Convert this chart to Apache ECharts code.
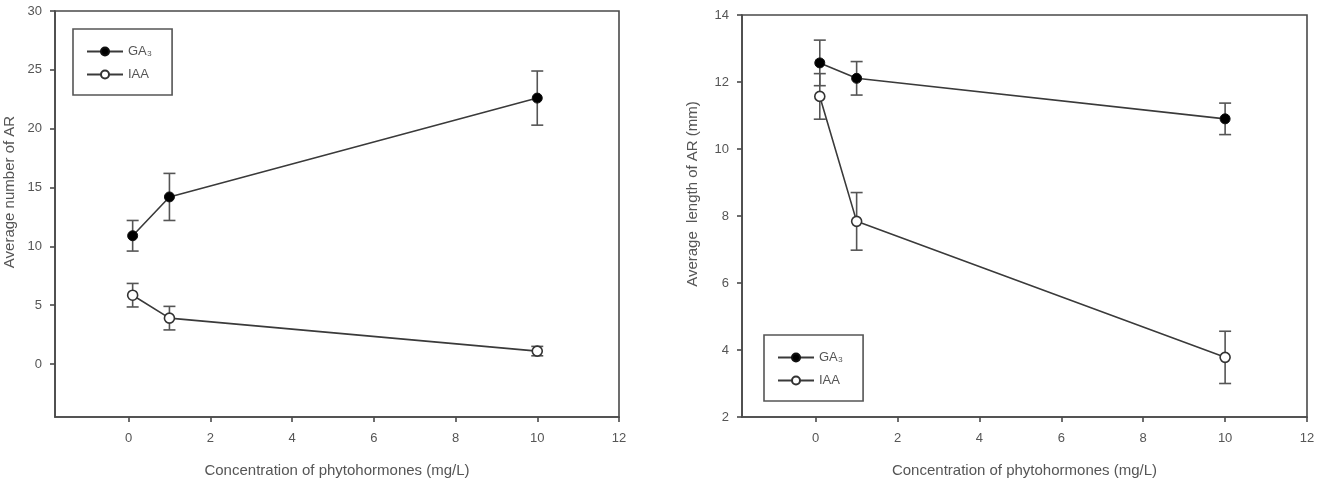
<!DOCTYPE html>
<html>
<head>
<meta charset="utf-8">
<script src="https://cdn.jsdelivr.net/npm/echarts@6/dist/echarts.min.js"></script>
<style>
  html, body { margin: 0; padding: 0; background: #fff; }
  #chart { width: 1321px; height: 483px; }
</style>
</head>
<body>
<div id="chart"></div>
<script>
// concentrations (mg/L)
const conc = [0.1, 1, 10];

// left panel: average number of AR
const gaCount = [10.9, 14.2, 22.6];
const gaCountErr = [1.3, 2.0, 2.3];
const iaaCount = [5.85, 3.9, 1.1];
const iaaCountErr = [1.0, 1.0, 0.4];

// right panel: average length of AR (mm)
const gaLength = [12.57, 12.11, 10.9];
const gaLengthErr = [0.68, 0.5, 0.47];
const iaaLength = [11.57, 7.84, 3.78];
const iaaLengthErr = [0.68, 0.86, 0.78];

// tick labels
const xTicks = [0, 2, 4, 6, 8, 10, 12];
const countTicks = [0, 5, 10, 15, 20, 25, 30];
const lengthTicks = [2, 4, 6, 8, 10, 12, 14];

const GA = 'GA₃';
const IAA = 'IAA';
const axisColor = '#4a4a4a';
const textColor = '#555';
const font = 'Liberation Sans, Arial, sans-serif';

function pairs(ys) {
  return conc.map((x, i) => [x, ys[i]]);
}
function errData(ys, errs) {
  return conc.map((x, i) => [x, ys[i] - errs[i], ys[i] + errs[i]]);
}

function errorBars(xi, yi, data) {
  return {
    type: 'custom',
    xAxisIndex: xi,
    yAxisIndex: yi,
    z: 1,
    silent: true,
    data: data,
    renderItem: function (params, api) {
      const x = api.value(0);
      const lo = api.coord([x, api.value(1)]);
      const hi = api.coord([x, api.value(2)]);
      const w = 6;
      const st = { stroke: '#555', lineWidth: 1.6 };
      return {
        type: 'group',
        children: [
          { type: 'line', shape: { x1: lo[0], y1: lo[1], x2: hi[0], y2: hi[1] }, style: st },
          { type: 'line', shape: { x1: hi[0] - w, y1: hi[1], x2: hi[0] + w, y2: hi[1] }, style: st },
          { type: 'line', shape: { x1: lo[0] - w, y1: lo[1], x2: lo[0] + w, y2: lo[1] }, style: st }
        ]
      };
    }
  };
}

function lineSeries(name, xi, yi, ys, filled) {
  return {
    name: name,
    type: 'line',
    xAxisIndex: xi,
    yAxisIndex: yi,
    z: 3,
    symbol: 'circle',
    symbolSize: 10,
    showAllSymbol: true,
    lineStyle: { color: '#3a3a3a', width: 1.6 },
    itemStyle: filled
      ? { color: '#000', borderColor: '#111', borderWidth: 1 }
      : { color: '#fff', borderColor: '#333', borderWidth: 1.6 },
    data: pairs(ys)
  };
}

function xAxis(gi) {
  return {
    type: 'value',
    gridIndex: gi,
    min: -1.8,
    max: 12,
    name: 'Concentration of phytohormones (mg/L)',
    nameLocation: 'middle',
    nameGap: 46,
    nameTextStyle: { color: textColor, fontSize: 15, fontFamily: font },
    axisLine: { onZero: false, lineStyle: { color: axisColor, width: 1.6 } },
    axisTick: { show: true, length: 5, customValues: xTicks, lineStyle: { color: axisColor, width: 1.6 } },
    axisLabel: { customValues: xTicks, margin: 15, color: textColor, fontSize: 13, fontFamily: font },
    splitLine: { show: false }
  };
}

function yAxis(gi, min, max, ticks, name, gap) {
  return {
    type: 'value',
    gridIndex: gi,
    min: min,
    max: max,
    name: name,
    nameLocation: 'middle',
    nameGap: gap,
    nameTextStyle: { color: textColor, fontSize: 15, fontFamily: font, padding: [0, 0, 0, 44] },
    axisLine: { onZero: false, lineStyle: { color: axisColor, width: 1.6 } },
    axisTick: { show: true, length: 5, customValues: ticks, lineStyle: { color: axisColor, width: 1.6 } },
    axisLabel: { customValues: ticks, margin: 13, color: textColor, fontSize: 13, fontFamily: font },
    splitLine: { show: false }
  };
}

function legend(left, top) {
  return {
    data: [GA, IAA],
    orient: 'vertical',
    left: left,
    top: top,
    padding: [16, 20, 14, 13],
    itemGap: 10,
    itemWidth: 36,
    itemHeight: 10,
    borderColor: '#555',
    borderWidth: 1.6,
    selectedMode: false,
    textStyle: { color: textColor, fontSize: 13, fontFamily: font }
  };
}

const chart = echarts.init(document.getElementById('chart'), null, { renderer: 'canvas' });

const option = {
  backgroundColor: '#fff',
  animation: false,
  legend: [legend(73, 29), legend(764, 335)],
  grid: [
    { left: 55, right: 702, top: 11, bottom: 64, show: true, borderColor: axisColor, borderWidth: 1.6 },
    { left: 742, right: 14, top: 15, bottom: 64, show: true, borderColor: axisColor, borderWidth: 1.6 }
  ],
  xAxis: [xAxis(0), xAxis(1)],
  yAxis: [
    yAxis(0, -4.5, 30, countTicks, 'Average number of AR', 38),
    yAxis(1, 2, 14, lengthTicks, 'Average  length of AR (mm)', 42)
  ],
  series: [
    errorBars(0, 0, errData(gaCount, gaCountErr)),
    errorBars(0, 0, errData(iaaCount, iaaCountErr)),
    lineSeries(GA, 0, 0, gaCount, true),
    lineSeries(IAA, 0, 0, iaaCount, false),
    errorBars(1, 1, errData(gaLength, gaLengthErr)),
    errorBars(1, 1, errData(iaaLength, iaaLengthErr)),
    lineSeries(GA, 1, 1, gaLength, true),
    lineSeries(IAA, 1, 1, iaaLength, false)
  ]
};

chart.setOption(option);
</script>
</body>
</html>
